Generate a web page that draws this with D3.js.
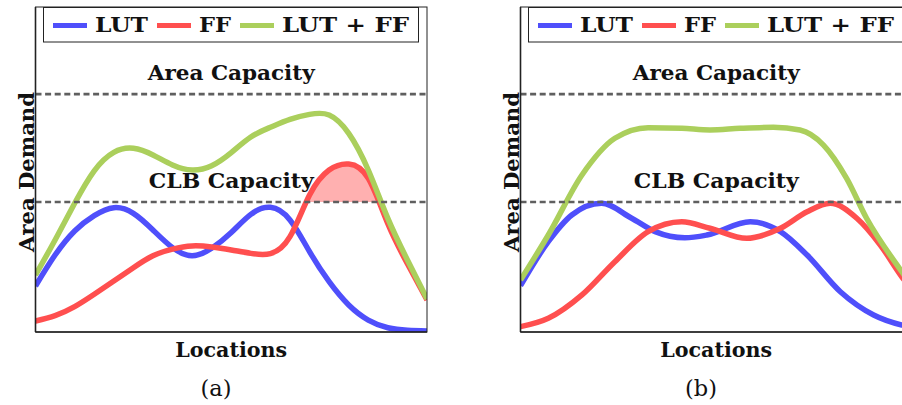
<!DOCTYPE html>
<html>
<head>
<meta charset="utf-8">
<script src="https://cdn.jsdelivr.net/npm/d3@7/dist/d3.min.js"></script>
<style>
  body { margin: 0; background: #ffffff; }
  svg { display: block; }
</style>
</head>
<body>
<svg id="chart" width="902" height="405"></svg>
<script>
// Series names and colours
const seriesNames = ["LUT", "FF", "LUT + FF"];
const seriesColors = ["#4f4ffb", "#ff4f4f", "#abcf5c"];

// Capacity levels (demand units; CLB capacity = 100)
const clbCapacity = 100;
const areaCapacity = 183;

// Panel (a): demand sampled every 5% of the locations
const locationsA = [0, 5, 10, 15, 20, 25, 30, 35, 40, 45, 50, 55, 60, 65, 70, 75, 80, 85, 90, 95, 100];
const lutA = [35.4, 59.2, 77.7, 89.5, 95.6, 91.3, 78.5, 64.9, 58.7, 64.4, 76.5,
  90.5, 95.9, 86.2, 61.8, 38.7, 20.8, 9.2, 3.3, 1.3, 0.8];
const ffA = [8.5, 12.6, 19.5, 29.0, 39.2, 49.5, 58.7, 63.8, 66.2, 65.4, 63.1,
  60.5, 60.3, 73.3, 105.4, 124.6, 129.2, 118.2, 83.3, 52.5, 24.6];
const sumA = [43.8, 70.8, 99.0, 124.0, 138.2, 141.3, 136.2, 128.5, 124.6, 127.9, 138.0,
  150.0, 157.5, 163.6, 167.4, 166.9, 152.8, 124.6, 87.4, 55.4, 25.4];

// Panel (b): [location %, demand]
const lutB = [[0, 35.6], [7.1, 69.5], [13.1, 90.0], [20.7, 99.0], [28.4, 87.5], [34.4, 77.2],
  [42.0, 72.5], [47.6, 74.6], [58.7, 84.8], [66.4, 77.2], [73.2, 59.2], [81.7, 31.0],
  [90.2, 13.1], [97.4, 5.4], [100, 3.8]];
const ffB = [[0, 4.1], [7.1, 10.5], [15.7, 28.5], [24.1, 54.1], [32.6, 77.2], [41.2, 84.8],
  [48.4, 79.8], [57.8, 72.1], [66.4, 79.8], [73.2, 92.5], [79.1, 99.0], [85.9, 87.5],
  [91.9, 66.9], [97.4, 42.5], [100, 32.3]];
const sumB = [[0, 40.0], [7.1, 74.6], [15.7, 120.8], [24.1, 149.0], [32.6, 157.2], [41.2, 156.7],
  [48.4, 155.4], [56.1, 156.7], [64.6, 157.5], [71.4, 155.4], [77.4, 143.8], [83.3, 118.2],
  [88.4, 87.5], [97.4, 46.4], [100, 35.4]];

const panelLabels = ["(a)", "(b)"];
const xTitle = "Locations";
const yTitle = "Area Demand";
const capacityLabels = ["Area Capacity", "CLB Capacity"];

const zipA = vals => locationsA.map((l, k) => [l, vals[k]]);

const panels = [
  { left: 35.5, series: [zipA(lutA), zipA(ffA), zipA(sumA)], label: panelLabels[0],
    shadeOverflow: true, curve: d3.curveNatural },
  { left: 520.5, series: [lutB, ffB, sumB], label: panelLabels[1],
    shadeOverflow: false, curve: d3.curveMonotoneX }
];

const svg = d3.select("#chart");
const W = 391.5, TOP = 7, BOTTOM = 332;
const serif = "'DejaVu Serif', 'Liberation Serif', serif";

const y = d3.scaleLinear().domain([0, 250]).range([BOTTOM, TOP]);

function label(g, x, yPos, str, len, extra) {
  const t = g.append("text").attr("x", x).attr("y", yPos)
    .attr("font-family", serif).attr("font-weight", "bold").attr("font-size", 20.5)
    .attr("fill", "#111");
  if (len) t.attr("textLength", len).attr("lengthAdjust", "spacingAndGlyphs");
  if (extra) extra(t);
  return t.text(str);
}

panels.forEach((p, i) => {
  const x = d3.scaleLinear().domain([0, 100]).range([p.left, p.left + W]);
  const g = svg.append("g");
  const clipId = "clip" + i;
  svg.append("clipPath").attr("id", clipId)
    .append("rect").attr("x", p.left).attr("y", TOP).attr("width", W).attr("height", BOTTOM - TOP);

  const line = d3.line().x(d => x(d[0])).y(d => y(d[1])).curve(p.curve);
  const plot = g.append("g").attr("clip-path", `url(#${clipId})`);

  // Overflow of FF above CLB capacity
  if (p.shadeOverflow) {
    const overId = "over" + i;
    svg.append("clipPath").attr("id", overId)
      .append("rect").attr("x", p.left).attr("y", TOP).attr("width", W)
      .attr("height", y(clbCapacity) - TOP);
    const area = d3.area().x(d => x(d[0])).y0(y(clbCapacity)).y1(d => y(d[1])).curve(p.curve);
    plot.append("path").datum(p.series[1]).attr("clip-path", `url(#${overId})`)
      .attr("d", area).attr("fill", "#ffb0b0");
  }

  // Demand curves
  p.series.forEach((s, k) => {
    plot.append("path").datum(s).attr("d", line)
      .attr("fill", "none").attr("stroke", seriesColors[k])
      .attr("stroke-width", 5.5).attr("stroke-linejoin", "round");
  });

  // Capacity lines
  [areaCapacity, clbCapacity].forEach(c => {
    g.append("line").attr("x1", p.left).attr("x2", p.left + W)
      .attr("y1", y(c)).attr("y2", y(c))
      .attr("stroke", "#5f5f5f").attr("stroke-width", 2.6).attr("stroke-dasharray", "6,3.6");
  });

  // Capacity labels
  const cx = p.left + W * 0.5;
  label(g, cx, y(areaCapacity) - 14, capacityLabels[0], 167, t => t.attr("text-anchor", "middle"));
  label(g, cx, y(clbCapacity) - 14, capacityLabels[1], 165, t => t.attr("text-anchor", "middle"));

  // Axes frame
  g.append("rect").attr("x", p.left).attr("y", TOP).attr("width", W).attr("height", BOTTOM - TOP)
    .attr("fill", "none").attr("stroke", "#222").attr("stroke-width", 1);
  g.append("line").attr("x1", p.left).attr("x2", p.left).attr("y1", TOP).attr("y2", BOTTOM)
    .attr("stroke", "#222").attr("stroke-width", 1.6);
  g.append("line").attr("x1", p.left).attr("x2", p.left + W).attr("y1", BOTTOM).attr("y2", BOTTOM)
    .attr("stroke", "#222").attr("stroke-width", 1.6);

  // Legend
  const leg = g.append("g");
  leg.append("rect").attr("x", p.left + 8).attr("y", 7.5).attr("width", 375).attr("height", 34.5)
    .attr("fill", "#fff").attr("stroke", "#222").attr("stroke-width", 1);
  const legendOffsets = [17.5, 121.5, 204.5];
  const legendTextLen = [53, 32, 127];
  seriesNames.forEach((n, k) => {
    const lx = p.left + legendOffsets[k];
    leg.append("line").attr("x1", lx).attr("x2", lx + 34).attr("y1", 25.5).attr("y2", 25.5)
      .attr("stroke", seriesColors[k]).attr("stroke-width", 5);
    label(leg, lx + 42, 32, n, legendTextLen[k]);
  });

  // Axis titles and panel label
  label(g, cx, 356.5, xTitle, 112, t => t.attr("text-anchor", "middle"));
  label(g, 0, 0, yTitle, 160, t => t.attr("text-anchor", "middle")
    .attr("transform", `translate(${p.left - 2},172) rotate(-90)`));
  g.append("text").attr("x", p.left + 180.5).attr("y", 396)
    .attr("text-anchor", "middle").attr("font-family", serif)
    .attr("font-size", 22.5).attr("fill", "#111").text(p.label);
});
</script>
</body>
</html>
